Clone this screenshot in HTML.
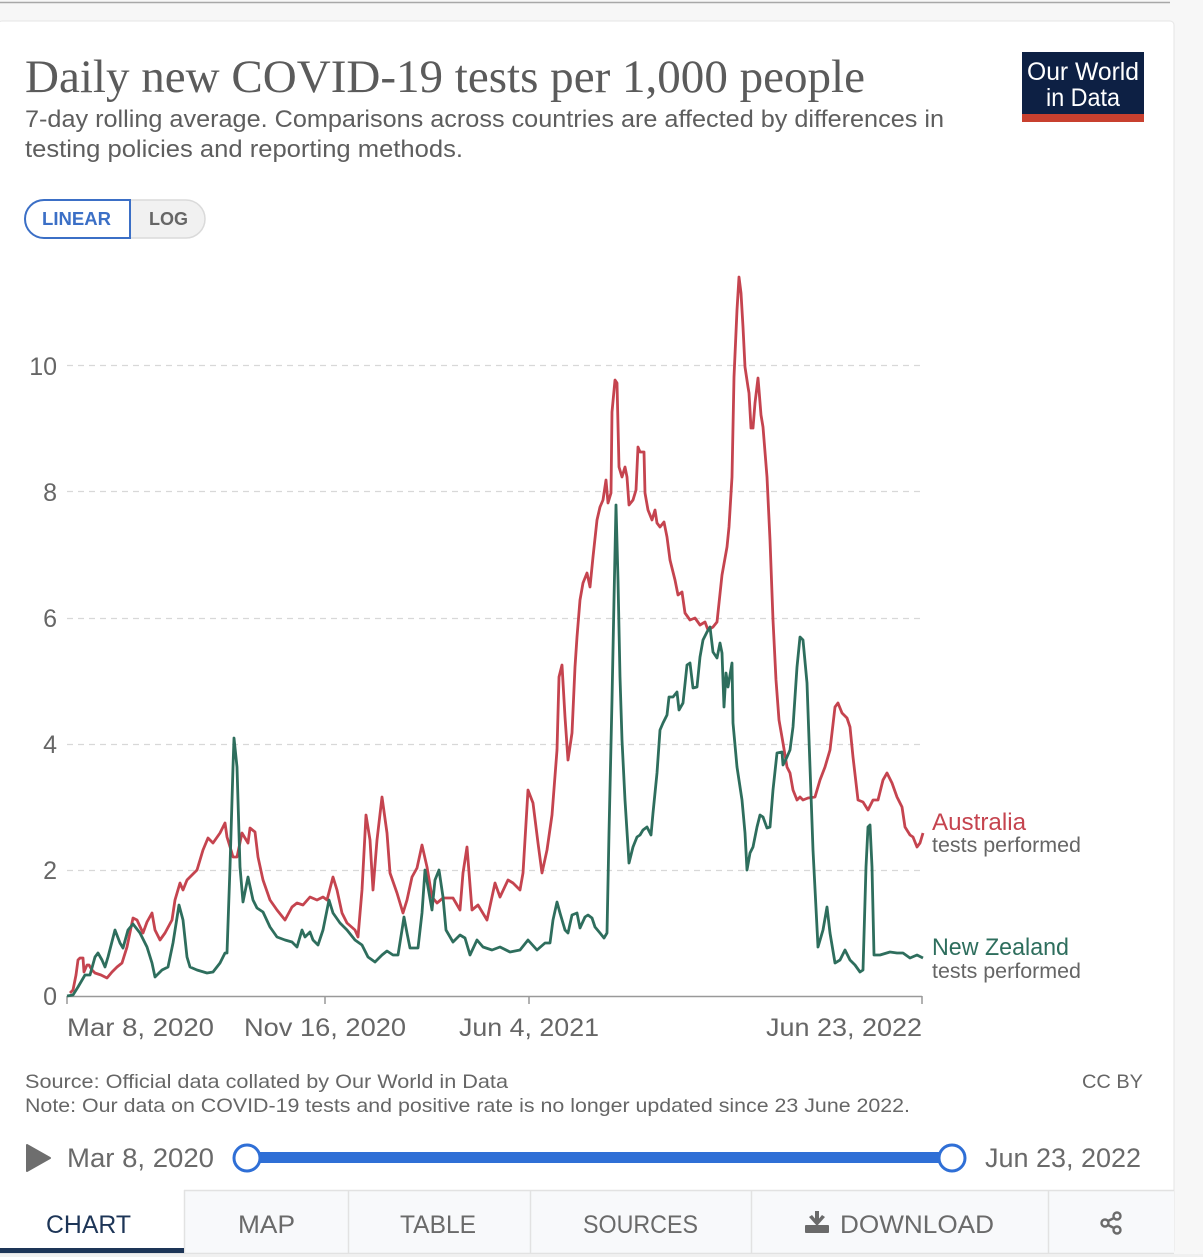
<!DOCTYPE html>
<html><head><meta charset="utf-8"><style>
html,body{margin:0;padding:0;background:#f7f7f7;}
svg{display:block;}
text{font-family:"Liberation Sans",sans-serif;}
</style></head><body>
<svg width="1203" height="1257" viewBox="0 0 1203 1257" xmlns="http://www.w3.org/2000/svg">
<rect x="0" y="0" width="1203" height="1257" fill="#f7f7f7"/>
<line x1="0" y1="2.5" x2="1170" y2="2.5" stroke="#a8a8a8" stroke-width="1.5"/>
<!-- card -->
<rect x="-2" y="21" width="1176" height="1233" rx="4" fill="#ffffff" stroke="#e6e6e6" stroke-width="1"/>

<!-- title -->
<text x="25" y="92" font-family="Liberation Serif, serif" style="font-family:'Liberation Serif',serif" font-size="47" fill="#5b5b5b" textLength="840" lengthAdjust="spacingAndGlyphs">Daily new COVID-19 tests per 1,000 people</text>
<text x="25" y="127" font-size="24" fill="#5e5e5e" textLength="919" lengthAdjust="spacingAndGlyphs">7-day rolling average. Comparisons across countries are affected by differences in</text>
<text x="25" y="157" font-size="24" fill="#5e5e5e" textLength="438" lengthAdjust="spacingAndGlyphs">testing policies and reporting methods.</text>

<!-- logo -->
<rect x="1022" y="52" width="122" height="63" fill="#0d2044"/>
<rect x="1022" y="114" width="122" height="8" fill="#c8402f"/>
<text x="1083" y="80" font-size="25" fill="#fff" text-anchor="middle" textLength="112" lengthAdjust="spacingAndGlyphs">Our World</text>
<text x="1083" y="106" font-size="25" fill="#fff" text-anchor="middle" textLength="74" lengthAdjust="spacingAndGlyphs">in Data</text>

<!-- linear/log -->
<rect x="25" y="200" width="180" height="38" rx="19" fill="#f1f1f1" stroke="#dadada" stroke-width="1.5"/>
<path d="M44,200 H130 V238 H44 A19,19 0 0 1 44,200 Z" fill="#fff" stroke="#3b6fc6" stroke-width="2"/>
<text x="42" y="225" font-size="18" font-weight="bold" fill="#3b6fc6" textLength="69" lengthAdjust="spacingAndGlyphs">LINEAR</text>
<text x="149" y="225" font-size="18" font-weight="bold" fill="#666" textLength="39" lengthAdjust="spacingAndGlyphs">LOG</text>

<!-- grid -->
<g stroke="#d8d8d8" stroke-width="1.2" stroke-dasharray="6,5">
<line x1="67" y1="365.5" x2="922" y2="365.5"/>
<line x1="67" y1="491.5" x2="922" y2="491.5"/>
<line x1="67" y1="618.5" x2="922" y2="618.5"/>
<line x1="67" y1="744.5" x2="922" y2="744.5"/>
<line x1="67" y1="870.5" x2="922" y2="870.5"/>
</g>
<g font-size="25" fill="#666" text-anchor="end">
<text x="57" y="375">10</text>
<text x="57" y="501">8</text>
<text x="57" y="627">6</text>
<text x="57" y="753">4</text>
<text x="57" y="879">2</text>
<text x="57" y="1005">0</text>
</g>
<!-- x axis -->
<g stroke="#999" stroke-width="1.5">
<line x1="67" y1="996.5" x2="922" y2="996.5"/>
<line x1="67" y1="996" x2="67" y2="1004"/>
<line x1="325" y1="996" x2="325" y2="1004"/>
<line x1="529" y1="996" x2="529" y2="1004"/>
<line x1="922" y1="996" x2="922" y2="1004"/>
</g>
<g font-size="25" fill="#666">
<text x="67" y="1036" textLength="147" lengthAdjust="spacingAndGlyphs">Mar 8, 2020</text>
<text x="244" y="1036" textLength="162" lengthAdjust="spacingAndGlyphs">Nov 16, 2020</text>
<text x="459" y="1036" textLength="140" lengthAdjust="spacingAndGlyphs">Jun 4, 2021</text>
<text x="766" y="1036" textLength="156" lengthAdjust="spacingAndGlyphs">Jun 23, 2022</text>
</g>

<!-- series -->
<polyline fill="none" stroke="#c5444f" stroke-width="2.8" stroke-linejoin="round" points="70,993 73,990 76,975 78,960 80,958 83,958 84,972 87,965 89,965 92,970 95,973 101,975 107,978 112,972 117,967 122,963 127,947 133,918 137,920 143,933 147,922 152,913 155,930 160,940 165,933 172,920 175,900 180,883 183,890 187,880 197,870 203,850 208,838 213,843 220,833 225,823 227,837 231,850 233,857 237,857 242,833 248,843 250,828 255,832 258,857 263,880 270,900 277,910 285,920 292,907 297,903 303,905 310,897 317,900 323,897 327,900 333,877 337,890 342,913 347,923 355,930 358,937 362,890 366,815 370,840 373,890 377,840 382,797 387,833 390,873 397,893 403,913 407,900 412,877 417,868 422,845 427,867 432,897 437,903 443,898 453,898 460,910 463,873 467,847 472,910 478,905 487,920 495,883 500,897 508,880 513,883 520,890 523,873 528,790 533,803 538,843 542,873 547,850 552,815 557,750 559,677 562,665 565,717 568,760 572,733 575,667 577,637 580,600 583,583 587,573 590,587 593,557 597,520 600,507 603,500 606,480 608,503 611,493 612,412 615,380 617,383 619,467 622,477 625,467 627,477 629,505 633,500 636,490 638,447 640,452 644,452 645,493 648,510 652,520 655,510 657,523 660,527 664,522 667,537 670,560 675,580 678,595 682,592 685,613 690,620 695,618 700,625 705,622 708,630 713,627 717,622 722,575 727,547 729,527 732,477 734,377 737,310 739,277 741,293 743,327 745,367 748,387 749,393 751,428 753,428 755,403 758,378 759,390 761,415 763,427 767,477 770,540 773,620 776,680 779,720 783,743 787,767 790,773 793,790 797,800 800,797 803,800 808,798 815,797 820,780 825,767 830,750 835,707 838,703 842,713 847,718 850,727 853,757 858,800 863,802 868,810 873,800 878,800 883,780 887,773 892,783 897,797 902,807 905,827 910,835 913,837 917,847 920,843 923,833"/>
<polyline fill="none" stroke="#2e6e5d" stroke-width="2.8" stroke-linejoin="round" points="67,996 73,995 78,987 85,975 90,975 95,957 98,953 102,960 105,967 108,957 115,930 120,943 123,948 128,930 133,924 140,933 147,947 152,963 155,977 162,970 168,967 173,943 179,905 183,920 187,957 190,967 197,970 207,973 213,972 220,963 225,953 227,953 230,867 233,767 234,738 237,767 240,867 243,902 248,877 253,900 257,908 263,912 270,927 277,937 285,940 292,942 297,947 302,930 305,937 310,932 313,940 318,945 323,930 329,900 333,913 340,923 347,930 355,940 362,945 368,957 375,962 382,955 387,951 393,955 398,955 402,930 404,917 407,933 410,948 418,948 422,913 425,870 428,887 432,910 435,880 439,870 443,897 446,930 453,942 460,935 465,938 470,955 477,940 483,947 492,950 500,947 510,952 520,950 528,940 537,950 545,943 550,943 553,920 557,902 560,913 565,930 568,933 572,915 577,913 580,928 585,917 588,915 592,918 595,927 600,933 604,938 607,933 609,833 612,700 614,600 616,505 618,580 620,677 622,740 625,800 629,863 633,847 637,837 640,835 643,830 647,827 651,835 653,813 657,773 660,730 663,723 667,715 669,697 673,697 677,692 679,710 683,703 687,665 690,663 693,688 697,687 700,657 703,640 707,632 710,627 713,652 717,658 720,643 722,653 724,707 726,673 728,687 732,663 733,723 737,767 742,800 745,833 747,870 750,853 753,847 757,827 760,815 763,817 767,828 770,827 773,790 777,753 782,752 783,765 787,757 790,750 793,727 797,667 800,637 803,640 807,683 810,767 813,850 818,947 823,930 827,907 830,933 835,963 840,960 845,950 850,960 855,965 860,972 863,970 866,867 868,827 870,825 872,867 874,955 880,955 890,952 897,953 903,953 910,958 917,955 923,958"/>

<!-- legend -->
<text x="932" y="830" font-size="24" fill="#c5444f" textLength="94" lengthAdjust="spacingAndGlyphs">Australia</text>
<text x="932" y="852" font-size="21" fill="#666" textLength="149" lengthAdjust="spacingAndGlyphs">tests performed</text>
<text x="932" y="955" font-size="24" fill="#2e6e5d" textLength="137" lengthAdjust="spacingAndGlyphs">New Zealand</text>
<text x="932" y="978" font-size="21" fill="#666" textLength="149" lengthAdjust="spacingAndGlyphs">tests performed</text>

<!-- footer -->
<text x="25" y="1088" font-size="19.5" fill="#666" textLength="483" lengthAdjust="spacingAndGlyphs">Source: Official data collated by Our World in Data</text>
<text x="25" y="1112" font-size="19.5" fill="#666" textLength="885" lengthAdjust="spacingAndGlyphs">Note: Our data on COVID-19 tests and positive rate is no longer updated since 23 June 2022.</text>
<text x="1143" y="1088" font-size="19.5" fill="#666" text-anchor="end" textLength="61" lengthAdjust="spacingAndGlyphs">CC BY</text>

<!-- timeline -->
<path d="M27,1145 L50,1158 L27,1171 Z" fill="#6e6e6e" stroke="#6e6e6e" stroke-width="2" stroke-linejoin="round"/>
<text x="67" y="1167" font-size="27" fill="#6a6a6a" textLength="147" lengthAdjust="spacingAndGlyphs">Mar 8, 2020</text>
<rect x="247" y="1152" width="705" height="11" fill="#2f6fd6"/>
<circle cx="247" cy="1158" r="13" fill="#fff" stroke="#2f6fd6" stroke-width="3"/>
<circle cx="952" cy="1158" r="13" fill="#fff" stroke="#2f6fd6" stroke-width="3"/>
<text x="985" y="1167" font-size="27" fill="#6a6a6a" textLength="156" lengthAdjust="spacingAndGlyphs">Jun 23, 2022</text>

<!-- tabs -->
<rect x="184" y="1190" width="990" height="63" fill="#f8f9fb"/>
<g stroke="#e2e2e2" stroke-width="1.5" fill="none">
<line x1="184" y1="1190.5" x2="1174" y2="1190.5"/>
<line x1="184.5" y1="1190" x2="184.5" y2="1253"/>
<line x1="348.5" y1="1190" x2="348.5" y2="1253"/>
<line x1="530.5" y1="1190" x2="530.5" y2="1253"/>
<line x1="751.5" y1="1190" x2="751.5" y2="1253"/>
<line x1="1048.5" y1="1190" x2="1048.5" y2="1253"/>
<line x1="0" y1="1253.5" x2="1174" y2="1253.5"/>
</g>
<rect x="0" y="1248" width="184" height="5" fill="#1d3557"/>
<rect x="0" y="1254" width="1203" height="3" fill="#f0f0f0"/>
<g font-size="25">
<text x="46" y="1233" fill="#1d3557" textLength="85" lengthAdjust="spacingAndGlyphs">CHART</text>
<text x="238" y="1233" fill="#6a6a6a" textLength="57" lengthAdjust="spacingAndGlyphs">MAP</text>
<text x="400" y="1233" fill="#6a6a6a" textLength="76" lengthAdjust="spacingAndGlyphs">TABLE</text>
<text x="583" y="1233" fill="#6a6a6a" textLength="115" lengthAdjust="spacingAndGlyphs">SOURCES</text>
<text x="840" y="1233" fill="#6a6a6a" textLength="154" lengthAdjust="spacingAndGlyphs">DOWNLOAD</text>
</g>
<!-- download icon -->
<g fill="#6a6a6a">
<rect x="815" y="1211" width="4" height="12"/>
<path d="M809,1217 L817,1226 L825,1217 L822,1215 L817,1221 L812,1215 Z"/>
<rect x="805" y="1225" width="24" height="8" rx="1"/>
</g>
<!-- share icon -->
<g stroke="#6a6a6a" stroke-width="2.4" fill="none">
<circle cx="1117" cy="1216" r="3.5"/>
<circle cx="1105" cy="1223" r="3.5"/>
<circle cx="1117" cy="1230" r="3.5"/>
<line x1="1108" y1="1221" x2="1114" y2="1218"/>
<line x1="1108" y1="1225" x2="1114" y2="1228"/>
</g>
</svg>
</body></html>
